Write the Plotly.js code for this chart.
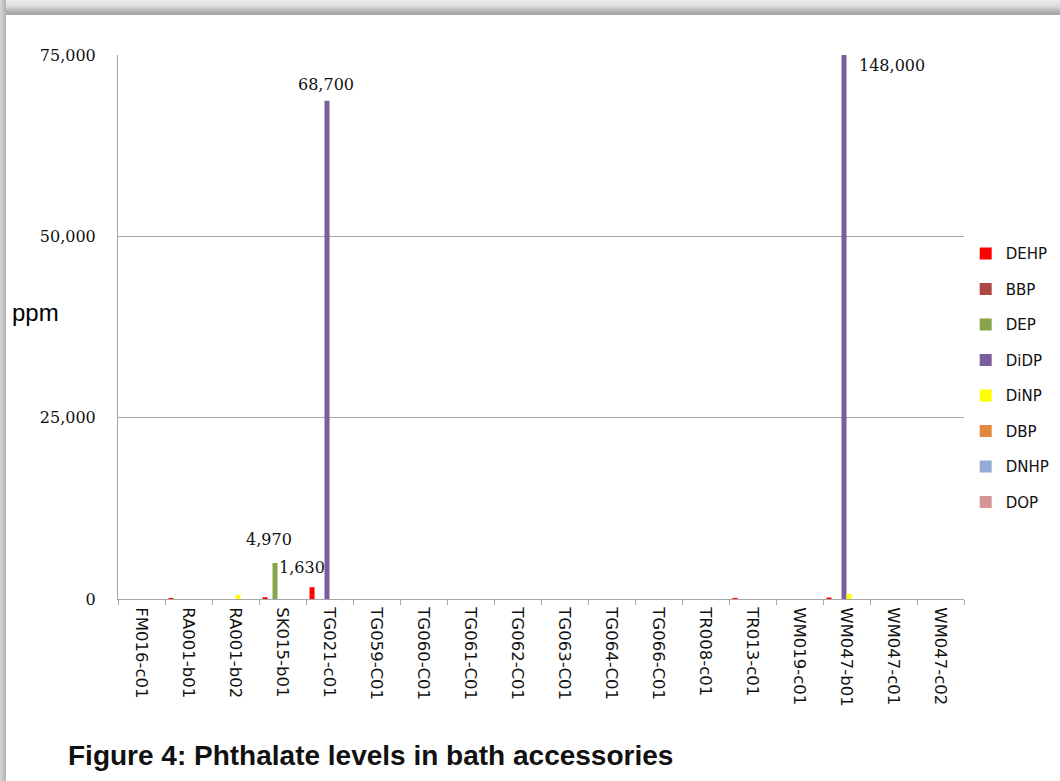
<!DOCTYPE html>
<html>
<head>
<meta charset="utf-8">
<script src="https://cdn.plot.ly/plotly-3.0.1.min.js"></script>
<style>
  html, body { margin: 0; padding: 0; width: 1060px; height: 781px; overflow: hidden; }
  body { background: linear-gradient(to bottom, #ececec 0px, #dcdcdc 6px, #b4b4b4 11px, #a4a4a4 15px); position: relative; }
  #leftstrip { position: absolute; left: 0; top: 0; width: 6px; height: 781px;
    background: linear-gradient(to right, #d8d8d8 0px, #c4c4c4 3px, #b0b0b0 6px); }
  #chart { position: absolute; left: 6px; top: 15px; width: 1054px; height: 766px; background: #fff; }
</style>
</head>
<body>
<div id="leftstrip"></div>
<div id="chart"></div>
<script>
const categories = ["FM016-c01","RA001-b01","RA001-b02","SK015-b01","TG021-c01","TG059-C01","TG060-C01","TG061-C01","TG062-C01","TG063-C01","TG064-C01","TG066-C01","TR008-c01","TR013-c01","WM019-c01","WM047-b01","WM047-c01","WM047-c02"];
const seriesNames = ["DEHP","BBP","DEP","DiDP","DiNP","DBP","DNHP","DOP"];
const DEHP = [0,150,0,250,1630,0,0,0,0,0,0,0,0,150,0,200,0,0];
const BBP  = [0,0,0,0,0,0,0,0,0,0,0,0,0,0,0,0,0,0];
const DEP  = [0,0,0,4970,0,0,0,0,0,0,0,0,0,0,0,0,0,0];
const DiDP = [0,0,0,0,68700,0,0,0,0,0,0,0,0,0,0,148000,0,0];
const DiNP = [0,0,550,0,0,0,0,0,0,0,0,0,0,0,0,700,0,0];
const DBP  = [0,0,0,0,0,0,0,0,0,0,0,0,0,0,0,0,0,0];
const DNHP = [0,0,0,0,0,0,0,0,0,0,0,0,0,0,0,0,0,0];
const DOP  = [0,0,0,0,0,0,0,0,0,0,0,0,0,0,0,0,0,0];
const seriesValues = [DEHP,BBP,DEP,DiDP,DiNP,DBP,DNHP,DOP];
const colors = ["#ff0000","#ad4644","#89a34b","#7b5d9e","#ffff00","#e0883c","#93abd6","#d69493"];
const yTicks = [0,25000,50000,75000];
const yTickText = ["0","25,000","50,000","75,000"];

// data labels: [category, value, text]
const labelCats = ["TG021-c01","SK015-b01","TG021-c01","WM047-b01"];
const labelVals = [68700, 4970, 1630, 75000];
const labelTexts = ["68,700","4,970","1,630","148,000"];

const traces = seriesNames.map((n,i)=>({
  type:"bar", name:n, x:categories, y:seriesValues[i],
  marker:{color:colors[i], line:{width:0}},
  legendgroup:"g"+i, hoverinfo:"x+y+name"
}));

const lblFont = {family:"DejaVu Serif", size:16, color:"#111"};
const labelOpts = [
  {xshift:-3.5, yshift:5, xanchor:"center", yanchor:"bottom"},
  {xshift:-13.5, yshift:12, xanchor:"center", yanchor:"bottom"},
  {xshift:-28, yshift:8, xanchor:"center", yanchor:"bottom"},
  {xshift:10, yshift:1, xanchor:"left", yanchor:"top"}
];
const annotations = labelCats.map((c,i)=>Object.assign({
  x:c, y:labelVals[i], xref:"x", yref:"y", text:labelTexts[i], showarrow:false, font:lblFont
}, labelOpts[i]));
annotations.push({xref:"paper", yref:"paper", x:-0.1277, y:0.526, xanchor:"left", yanchor:"middle",
  text:"ppm", showarrow:false, font:{family:"Liberation Sans, Arial", size:24, color:"#000"}});

const layout = {
  width:1054, height:766,
  paper_bgcolor:"#ffffff", plot_bgcolor:"#ffffff",
  margin:{l:112, r:96, t:40, b:182, autoexpand:false},
  barmode:"group", bargap:0.15, bargroupgap:0,
  title:{text:"<b>Figure 4: Phthalate levels in bath accessories</b>",
    x:62/1054, xanchor:"left", y:1-740/766, yanchor:"middle", yref:"container",
    font:{family:"Liberation Sans, Arial", size:28, color:"#111"}},
  xaxis:{type:"category", categoryorder:"array", categoryarray:categories,
    tickangle:90, tickfont:{family:"DejaVu Sans", size:16.5, color:"#111"},
    showline:true, linecolor:"#a6a6a6", linewidth:1,
    ticks:"outside", tickson:"boundaries", ticklen:5, tickcolor:"#a6a6a6",
    showgrid:false, zeroline:false, ticklabelstandoff:4},
  yaxis:{range:[0,75000], tickvals:yTicks, ticktext:yTickText,
    tickfont:{family:"DejaVu Serif", size:16, color:"#111"},
    showline:true, linecolor:"#a6a6a6", linewidth:1,
    showgrid:true, gridcolor:"#a6a6a6", gridwidth:1, zeroline:false,
    ticks:"", ticklabelstandoff:18},
  legend:{x:1.002, xanchor:"left", y:0.665, yanchor:"top", traceorder:"grouped",
    tracegroupgap:13, font:{family:"DejaVu Sans", size:15, color:"#111"},
    bgcolor:"rgba(0,0,0,0)", itemwidth:30},
  annotations:annotations,
  showlegend:true
};
Plotly.newPlot("chart", traces, layout, {displayModeBar:false, staticPlot:true});
</script>
</body>
</html>
